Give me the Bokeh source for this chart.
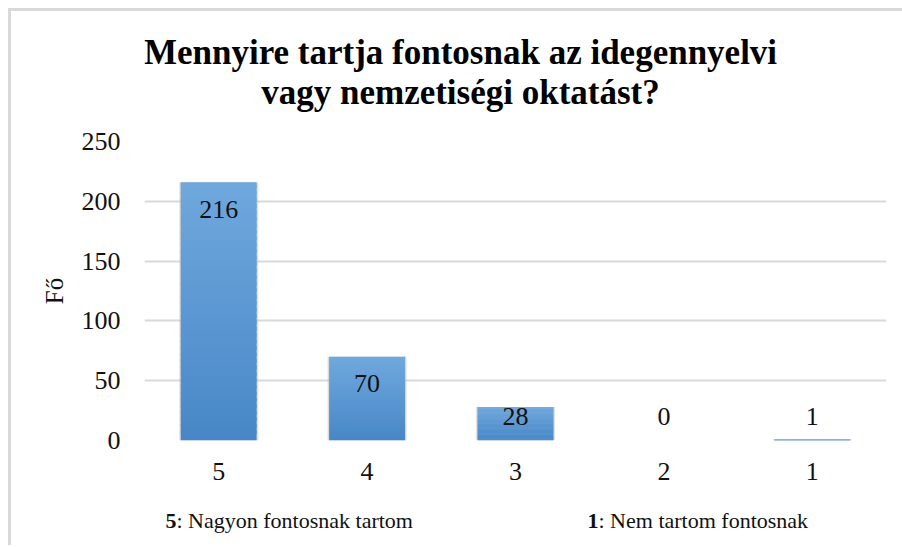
from bokeh.plotting import figure
from bokeh.models import FixedTicker, Label
from bokeh.layouts import column
from bokeh.embed import file_html
from bokeh.resources import INLINE
from bokeh.core.properties import value

# ---- data ----
categories = ["5", "4", "3", "2", "1"]
counts = [216, 70, 28, 0, 1]
y_ticks = [0, 50, 100, 150, 200, 250]
title_lines = ["Mennyire tartja fontosnak az idegennyelvi", "vagy nemzetiségi oktatást?"]
y_label = "Fő"
note_left = ("5", ": Nagyon fontosnak tartom")
note_right = ("1", ": Nem tartom fontosnak")

# ---- layout ----
W = 891
TITLE_H = 110
FIG_H = 374
NOTE_H = 50
ML, MR, MT, MB = 133, 16, 20, 55
FRAME_H = FIG_H - MT - MB
Y_MAX = 250
PPU = FRAME_H / Y_MAX
FONT = "Liberation Serif"
TXT = "#111111"


def text_panel(h):
    # frame of this panel is aligned with the chart frame by the column layout
    f = figure(width=W, height=h, x_range=(0, 1), y_range=(0, 1),
               x_axis_type=None, y_axis_type=None, output_backend="svg",
               toolbar_location=None, min_border=0,
               min_border_left=ML, min_border_right=MR)
    f.grid.visible = False
    f.outline_line_color = None
    f.background_fill_color = "white"
    f.border_fill_color = "white"
    return f


# ---- main chart ----
p = figure(x_range=categories, y_range=(0, Y_MAX), width=W, height=FIG_H,
           output_backend="svg", toolbar_location=None,
           min_border_left=ML, min_border_right=MR, min_border_top=MT, min_border_bottom=MB)
p.outline_line_color = None
p.background_fill_color = "white"
p.border_fill_color = "white"

p.xgrid.visible = False
p.ygrid.ticker = FixedTicker(ticks=y_ticks)
p.ygrid.grid_line_color = "#d9d9d9"
p.ygrid.grid_line_width = 2

for ax in (p.xaxis, p.yaxis):
    ax.axis_line_color = None
    ax.major_tick_line_color = None
    ax.minor_tick_line_color = None
    ax.major_label_text_font = FONT
    ax.major_label_text_font_size = "26px"
    ax.major_label_text_color = TXT
p.yaxis.ticker = FixedTicker(ticks=y_ticks)
p.yaxis.major_label_standoff = 18
p.xaxis.major_label_standoff = 16
p.yaxis.axis_label = y_label
p.yaxis.axis_label_text_font = FONT
p.yaxis.axis_label_text_font_style = "normal"
p.yaxis.axis_label_text_font_size = "25px"
p.yaxis.axis_label_text_color = TXT
p.yaxis.axis_label_standoff = 11

# shadow halo
p.vbar(x=categories, top=counts, width=0.535, fill_color="#bfbfbf", fill_alpha=0.35, line_color=None)
p.vbar(x=categories, top=counts, width=0.522, fill_color="#a6a6a6", fill_alpha=0.35, line_color=None)

# gradient bars (light top -> darker bottom)
N = 40
top_rgb = (0x70, 0xa8, 0xdd)
bot_rgb = (0x47, 0x87, 0xc7)
bx, bb, bt, bc = [], [], [], []
for c, v in zip(categories, counts):
    for i in range(N):
        t = (i + 0.5) / N
        rgb = tuple(round(bot_rgb[k] + (top_rgb[k] - bot_rgb[k]) * t) for k in range(3))
        bx.append(c)
        bb.append(v * i / N)
        bt.append(v * min(1.0, (i + 1.6) / N))
        bc.append("#%02x%02x%02x" % rgb)
p.vbar(x=bx, bottom=bb, top=bt, width=0.51, fill_color=bc, line_color=None)

# value labels: inside end if bar is tall enough, otherwise just above the base
lab_y = []
for v in counts:
    if v * PPU > 52:
        lab_y.append(v - 27 / PPU)
    else:
        lab_y.append(24 / PPU)
p.text(x=categories, y=lab_y, text=[str(v) for v in counts], text_align="center",
       text_baseline="alphabetic", text_font=value(FONT), text_font_size="26px", text_color=TXT)

# ---- title panel ----
pt = text_panel(TITLE_H)
for k, line in enumerate(title_lines):
    pt.add_layout(Label(x=316, y=69 - 40 * k, x_units="screen", y_units="screen", text=line,
                        text_align="center", text_baseline="alphabetic", text_font=FONT,
                        text_font_style="bold", text_font_size="35px", text_color="black"))

# ---- notes panel ----
pn = text_panel(NOTE_H)
for (num, rest), xpos in ((note_left, 32), (note_right, 454)):
    pn.add_layout(Label(x=xpos, y=25, x_units="screen", y_units="screen", text=num,
                        text_align="right", text_baseline="alphabetic", text_font=FONT,
                        text_font_style="bold", text_font_size="22px", text_color=TXT))
    pn.add_layout(Label(x=xpos, y=25, x_units="screen", y_units="screen", text=rest,
                        text_align="left", text_baseline="alphabetic", text_font=FONT,
                        text_font_size="22px", text_color=TXT))

layout = column(pt, p, pn, spacing=0,
                styles={"margin-left": "8px", "margin-top": "8px",
                        "border-left": "3px solid #d9d9d9", "border-top": "3px solid #d9d9d9",
                        "background-color": "white"})

open("out.html", "w").write(file_html(layout, INLINE))
